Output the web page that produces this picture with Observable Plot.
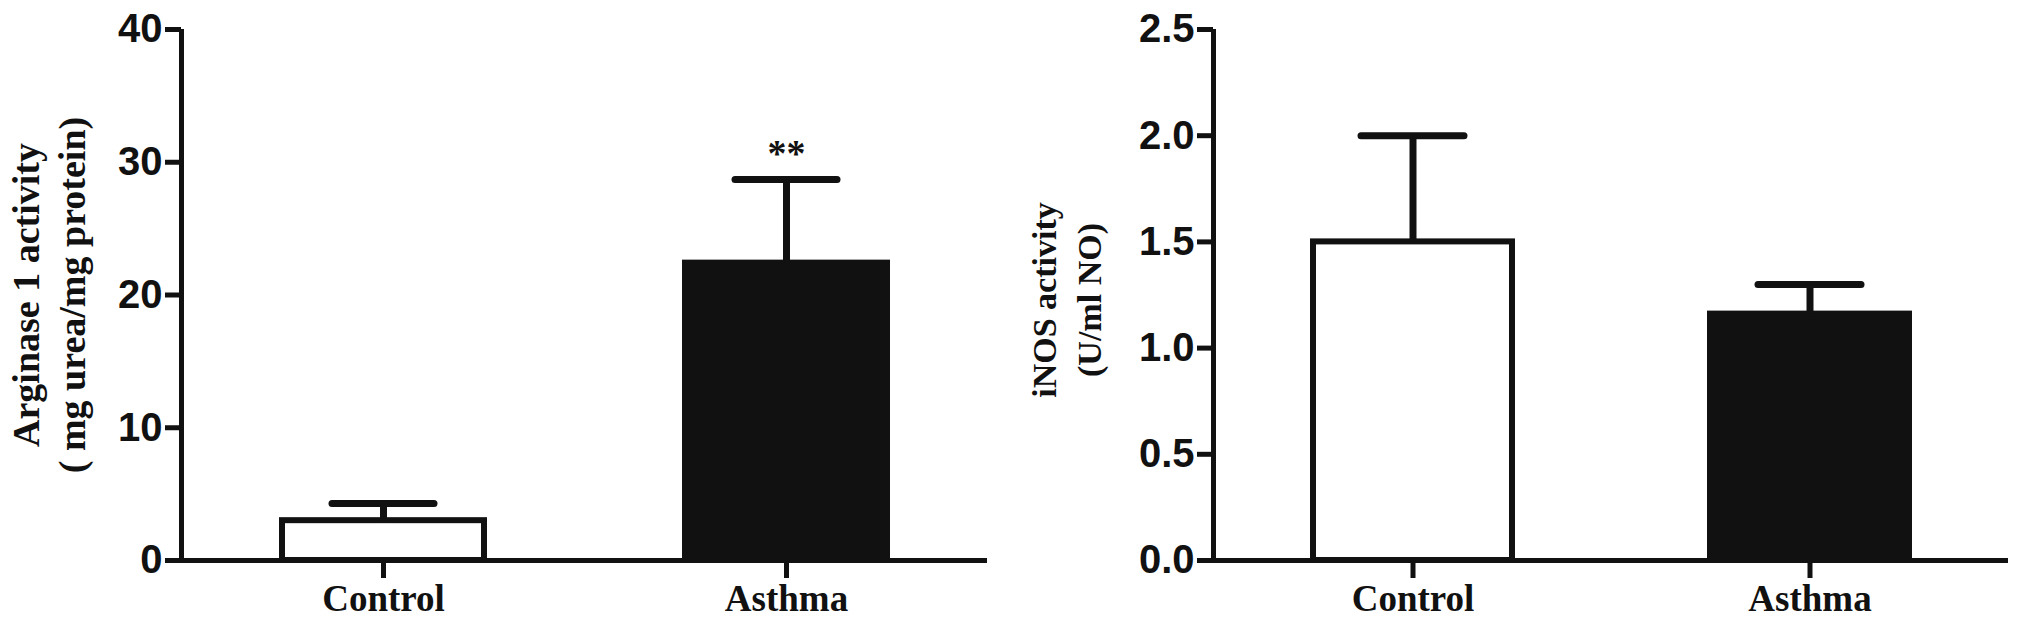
<!DOCTYPE html>
<html><head><meta charset="utf-8">
<script src="https://cdn.jsdelivr.net/npm/d3@7"></script>
<script src="https://cdn.jsdelivr.net/npm/@observablehq/plot@0.6"></script>
<style>
html,body{margin:0;padding:0;background:#fff;}
#wrap{position:relative;width:2031px;height:627px;overflow:hidden;background:#fff;}
#wrap svg{position:absolute;top:0;}
</style></head><body><div id="wrap"></div>
<script>
// ---- data ----
const categories = ["Control", "Asthma"];
const arginaseMean = [3.0, 22.4];
const arginaseErr = [1.3, 6.3];
const inosMean = [1.5, 1.16];
const inosErr = [0.5, 0.14];
const arginaseSig = ["", "**"];
const inosSig = ["", ""];
const arginaseTicks = [0, 10, 20, 30, 40];
const inosTicks = [0, 0.5, 1.0, 1.5, 2.0, 2.5];
const arginaseLabel = ["Arginase 1 activity", "( mg urea/mg protein)"];
const inosLabel = ["iNOS activity", "(U/ml NO)"];

const SERIF = "'Liberation Serif', 'Times New Roman', Times, serif";
const SANS = "'Liberation Sans', Arial, Helvetica, sans-serif";
const INK = "#111";

function panel(cfg) {
  const rows = categories.map((c, i) => ({group: c, mean: cfg.mean[i], err: cfg.err[i], sig: cfg.sig[i]}));
  const frameW = cfg.width - cfg.marginLeft - cfg.marginRight;
  const svg = Plot.plot({
    width: cfg.width,
    height: 627,
    marginLeft: cfg.marginLeft,
    marginRight: cfg.marginRight,
    marginTop: 29,
    marginBottom: 67,
    style: {color: INK, background: "white", fontWeight: "bold", overflow: "visible"},
    x: {domain: categories, paddingInner: 0.5, paddingOuter: 0.25, align: 0.5},
    y: {domain: cfg.domain},
    marks: [
      Plot.barY(rows, {x: "group", y: "mean", fill: d => d.group === "Control" ? "#fff" : INK,
        stroke: INK, strokeWidth: 6}),
      Plot.ruleX(rows, {x: "group", y1: "mean", y2: d => d.mean + d.err, stroke: INK, strokeWidth: 7}),
      Plot.tickY(rows, {x: "group", y: d => d.mean + d.err, stroke: INK, strokeWidth: 7,
        strokeLinecap: "round", insetLeft: cfg.capInset, insetRight: cfg.capInset}),
      Plot.text(rows.filter(d => d.sig), {x: "group", y: d => d.mean + d.err, text: "sig",
        dy: -26, fontSize: 38, fontFamily: SERIF, fill: INK}),
      // x axis line (extends left to the tick ends)
      Plot.ruleY([0], {stroke: INK, strokeWidth: 5, insetLeft: -16}),
      // y axis line along the left edge of the frame
      Plot.ruleX([0], {x: null, dx: -frameW / 2, stroke: INK, strokeWidth: 5}),
      Plot.axisY(cfg.ticks, {tickSize: 16, tickPadding: 3, strokeWidth: 5,
        fontSize: 40, fontFamily: SANS, tickFormat: cfg.tickFormat, label: null}),
      Plot.axisX({tickSize: 18, tickPadding: 6, strokeWidth: 5, fontSize: 37,
        fontFamily: SERIF, label: null}),
      Plot.text([cfg.label[0]], {text: d => d, frameAnchor: "left", rotate: -90, textAnchor: "middle",
        dx: cfg.labelDx[0], dy: cfg.labelDy, fontSize: cfg.labelSize, fontFamily: SERIF, fill: INK}),
      Plot.text([cfg.label[1]], {text: d => d, frameAnchor: "left", rotate: -90, textAnchor: "middle",
        dx: cfg.labelDx[1], dy: cfg.labelDy, fontSize: cfg.labelSize, fontFamily: SERIF, fill: INK})
    ]
  });
  svg.style.left = cfg.left + "px";
  return svg;
}

const wrap = document.getElementById("wrap");
wrap.appendChild(panel({
  left: 0, width: 1000, marginLeft: 181, marginRight: 13,
  mean: arginaseMean, err: arginaseErr, sig: arginaseSig,
  domain: [0, 40], ticks: arginaseTicks, tickFormat: d3.format("d"),
  label: arginaseLabel, labelDx: [-155, -109], labelDy: 0, labelSize: 38, capInset: 50
}));
wrap.appendChild(panel({
  left: 1000, width: 1031, marginLeft: 213, marginRight: 23,
  mean: inosMean, err: inosErr, sig: inosSig,
  domain: [0, 2.5], ticks: inosTicks, tickFormat: d3.format(".1f"),
  label: inosLabel, labelDx: [-168, -123], labelDy: 5, labelSize: 34, capInset: 48
}));
</script></body></html>
